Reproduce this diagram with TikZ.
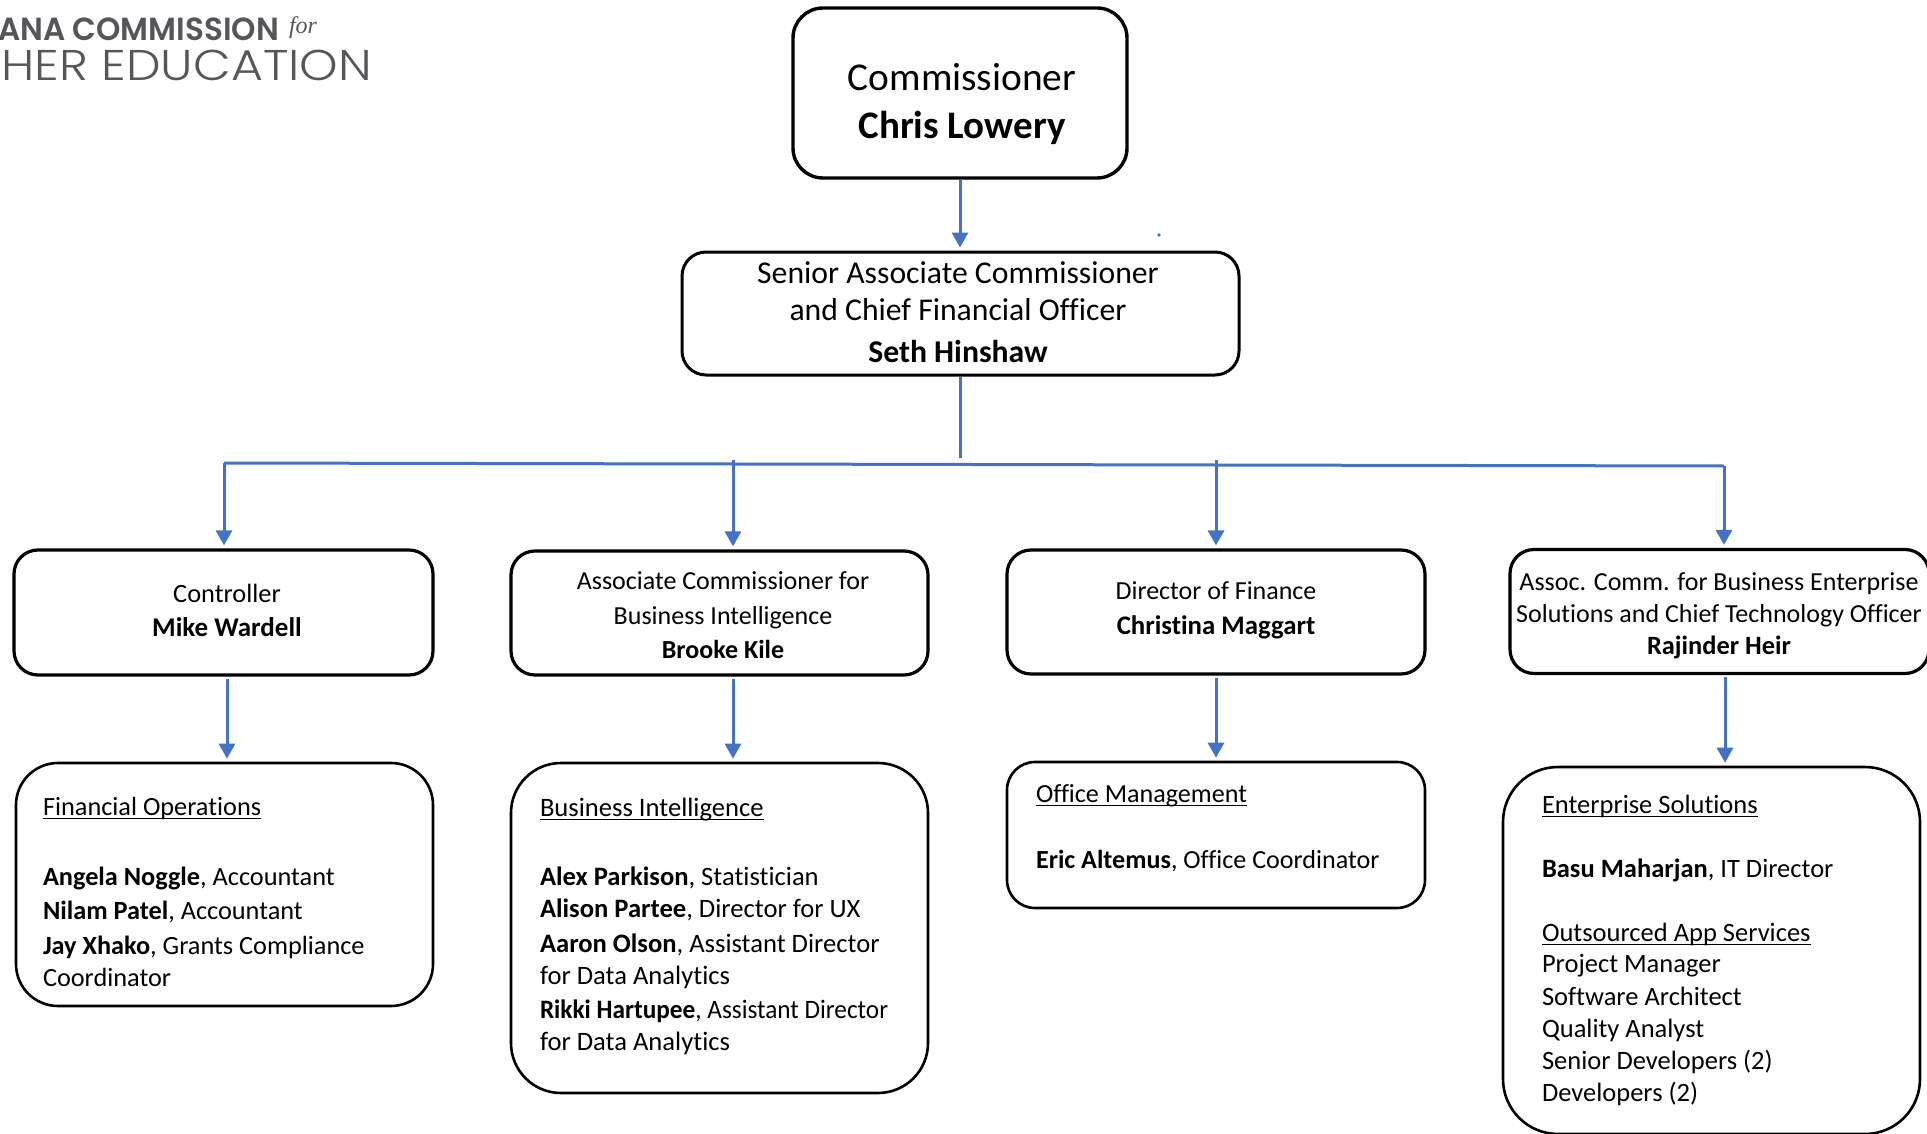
\documentclass[tikz,border=0pt]{standalone}
\usepackage{graphicx}
\usepackage{fontspec}
\setmainfont[Ligatures=NoCommon]{Carlito}
\newfontfamily\logofont[UprightFont=* SemiBold]{Poppins}
\newfontfamily\logolight[UprightFont=* Light]{Poppins}
\newfontfamily\logoserif{Liberation Serif}
\usetikzlibrary{arrows.meta,calc}
\definecolor{linkblue}{HTML}{4472C4}
\definecolor{logogrey}{HTML}{55565A}
\newcommand\ulx[1]{\leavevmode\setbox0=\hbox{#1}\rlap{\rule[-4pt]{\wd0}{1.5pt}}\box0}
\newcommand\bz[2]{{\fontsize{#1}{\baselineskip}\selectfont\bfseries #2}}
\tikzset{
  box/.style={draw=black,line width=#1,rectangle,inner sep=0pt,fill=none},
  box/.default=3pt,
  conn/.style={draw=linkblue,line width=3pt},
  arr/.style={conn,-{Triangle[width=16pt,length=15pt]},shorten >=3pt,shorten <=2pt},
  lab/.style={inner sep=0pt,outer sep=0pt,align=center,anchor=base},
  lft/.style={inner sep=0pt,outer sep=0pt,align=left,anchor=base west},
  sz/.style={font=\fontsize{#1}{#1}\selectfont},
}
\begin{document}
\begin{tikzpicture}[x=1pt,y=-1pt]
\useasboundingbox (0,0) rectangle (1927,1134);
\clip (0,0) rectangle (1927,1134);
% logo
\node[lab,anchor=base east,text=logogrey,sz=32] (logoa) at (279,41) {\scalebox{.97}[1]{\logofont ANA COMMISSION}};
\node[lab,anchor=base west,text=logogrey,sz=24] (logob) at (289,34) {\logoserif\itshape for};
\node[lab,anchor=base east,text=logogrey,sz=43] (logoc) at (372,81) {\scalebox{1.14}[1]{\logolight HER EDUCATION}};
% boxes
\node[box=3.4pt,rounded corners=30pt,minimum width=334pt,minimum height=170pt] (comm) at (960,93) {};
\node[box=3pt,rounded corners=24pt,minimum width=557pt,minimum height=123pt] (sac) at (960.5,313.5) {};
\node[box=3.2pt,rounded corners=24pt,minimum width=419pt,minimum height=125pt] (ctrl) at (223.5,612.5) {};
\node[box=3.2pt,rounded corners=24pt,minimum width=417pt,minimum height=124pt] (acbi) at (719.5,613) {};
\node[box=3.2pt,rounded corners=24pt,minimum width=418pt,minimum height=124pt] (dof) at (1216,612) {};
\node[box=3.2pt,rounded corners=24pt,minimum width=419pt,minimum height=124pt] (acbe) at (1719.5,611.5) {};
\node[box=2.6pt,rounded corners=42pt,minimum width=417pt,minimum height=243pt] (fin) at (224.5,884.5) {};
\node[box=2.6pt,rounded corners=50pt,minimum width=417pt,minimum height=330pt] (bi) at (719.5,928) {};
\node[box=2.6pt,rounded corners=28pt,minimum width=418pt,minimum height=146pt] (off) at (1216,835) {};
\node[box=2.6pt,rounded corners=55pt,minimum width=417pt,minimum height=367pt] (ent) at (1711.5,950.5) {};
% texts
\node[lab,sz=39.4] (commT) at (962,138.5) {Commissioner\\[8.6pt]\bz{39}{Chris Lowery}};
\node[lab,sz=31.7] (sacT) at (958,362) {Senior Associate Commissioner\\[5.3pt]and Chief Financial Officer\\[10.3pt]\textbf{Seth Hinshaw}};
\node[lab,sz=26.4] (ctrlT) at (227,636) {Controller\\[7.6pt]\bz{27}{Mike Wardell}};
\node[lab,sz=26] (acbiT) at (723,658) {Associate Commissioner for\\[9pt]Business Intelligence\\[8pt]\textbf{Brooke Kile}};
\node[lab,sz=26] (dofT) at (1216,634) {Director of Finance\\[9pt]\bz{26.8}{Christina Maggart}};
\node[lab,sz=26] (acbeT) at (1719,654) {Assoc. Comm. for Business Enterprise\\[6pt]Solutions and Chief Technology Officer\\[6pt]\bz{26.4}{Rajinder Heir}};
\node[lft,sz=26.3] (finT) at (43,986) {\ulx{Financial Operations}\\[43.7pt]\textbf{Angela Noggle}, Accountant\\[7.7pt]\textbf{Nilam Patel}, Accountant\\[8.7pt]\textbf{Jay Xhako}, Grants Compliance\\[5.7pt]Coordinator};
\node[lft,sz=26.6] (biT) at (540,1050) {\ulx{Business Intelligence}\\[42.4pt]\textbf{Alex Parkison}, Statistician\\[5.4pt]\textbf{Alison Partee}, Director for UX\\[8.4pt]\textbf{Aaron Olson}, Assistant Director\\[5.4pt]for Data Analytics\\[7.4pt]\scalebox{.95}[1]{\textbf{Rikki Hartupee}, Assistant Director}\\[5.4pt]for Data Analytics};
\node[lft,sz=26.1] (offT) at (1036,868) {\ulx{Office Management}\\[39.9pt]\textbf{Eric Altemus}, Office Coordinator};
\node[lft,sz=26.5] (entT) at (1542,1101) {\ulx{Enterprise Solutions}\\[37.5pt]\textbf{Basu Maharjan}, IT Director\\[37.5pt]\ulx{Outsourced App Services}\\[4.5pt]Project Manager\\[6.5pt]Software Architect\\[5.5pt]Quality Analyst\\[5.5pt]Senior Developers (2)\\[5.5pt]Developers (2)};
% connectors
\coordinate (busL) at (224,463);
\coordinate (busR) at (1724,466);
\coordinate (tapA) at (733,460);
\coordinate (tapB) at (1216,460);
\coordinate (drop) at (960,458);
\coordinate (x1) at (227,0);
\coordinate (x2) at (733,0);
\coordinate (x3) at (1216,0);
\coordinate (x4) at (1725,0);
\coordinate (xc) at (960,0);
\draw[arr,shorten <=0pt] (xc |- comm.south) -- (xc |- sac.north);
\draw[conn] (xc |- sac.south) -- (drop);
\draw[conn] (busL) -- (tapA |- 0,464) -- (tapB |- 0,465) -- (busR);
\draw[arr,shorten <=0pt] (busL) -- (busL |- ctrl.north);
\draw[arr,shorten <=0pt] (tapA) -- (tapA |- acbi.north);
\draw[arr,shorten <=0pt] (tapB) -- (tapB |- dof.north);
\draw[arr,shorten <=0pt] (busR) -- (busR |- acbe.north);
\draw[arr] (x1 |- ctrl.south) -- (x1 |- fin.north);
\draw[arr] (x2 |- acbi.south) -- (x2 |- bi.north);
\draw[arr] (x3 |- dof.south) -- (x3 |- off.north);
\draw[arr] (x4 |- acbe.south) -- (x4 |- ent.north);
\fill[linkblue] (1159,235) circle (1.8pt);
\end{tikzpicture}
\end{document}
